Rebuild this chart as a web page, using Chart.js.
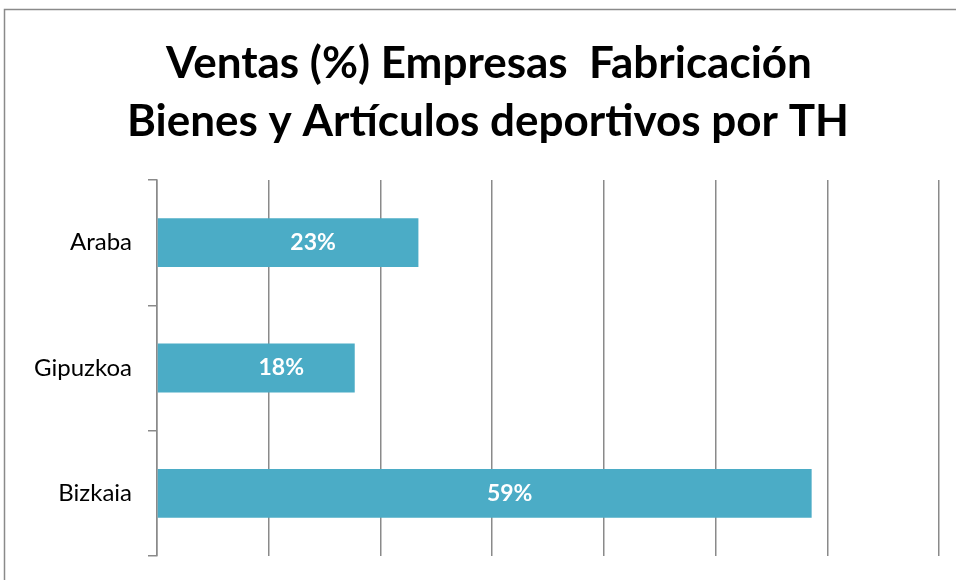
<!DOCTYPE html>
<html>
<head>
<meta charset="utf-8">
<script src="https://cdn.jsdelivr.net/npm/chart.js@4.4.0/dist/chart.umd.min.js"></script>
<style>
  html, body { margin: 0; padding: 0; background: #fff; }
  #wrap { width: 956px; height: 580px; position: relative; }
</style>
</head>
<body>
<div id="wrap"><canvas id="grafico" width="956" height="580"></canvas></div>
<script>
// datos
var territorios = ["Araba", "Gipuzkoa", "Bizkaia"];
var ventas = [23.4, 17.7, 58.6];
var titulo = ["Ventas (%) Empresas  Fabricación", "Bienes y Artículos deportivos por TH"];

var fuente = "Lato, 'Open Sans', sans-serif";

// marco gris del grafico (solo se ven los bordes izquierdo y superior)
var marco = {
    id: "marco",
    beforeDraw: function(c) {
        var ctx = c.ctx;
        ctx.save();
        ctx.strokeStyle = "#8a8a8a";
        ctx.lineWidth = 1.5;
        ctx.beginPath();
        ctx.moveTo(4.5, 600);
        ctx.lineTo(4.5, 9.5);
        ctx.lineTo(990, 9.5);
        ctx.stroke();
        ctx.restore();
    }
};

// titulo en dos lineas, algo desplazado a la derecha como en el original
var cabecera = {
    id: "cabecera",
    afterDraw: function(c) {
        var ctx = c.ctx;
        ctx.save();
        ctx.fillStyle = "#000";
        ctx.font = "bold 44px " + fuente;
        ctx.textAlign = "center";
        ctx.textBaseline = "alphabetic";
        ctx.fillText(titulo[0], 489, 78);
        ctx.fillText(titulo[1], 488, 136);
        ctx.restore();
    }
};

// etiquetas de porcentaje dentro de las barras
var etiquetas = {
    id: "etiquetas",
    afterDatasetsDraw: function(c) {
        var ctx = c.ctx;
        var meta = c.getDatasetMeta(0);
        ctx.save();
        ctx.fillStyle = "#ffffff";
        ctx.font = "bold 23px " + fuente;
        ctx.textAlign = "center";
        ctx.textBaseline = "middle";
        meta.data.forEach(function(b, i) {
            var x = (b.x + b.base) / 2 + 25;
            ctx.fillText(Math.round(ventas[i]) + "%", x, b.y);
        });
        ctx.restore();
    }
};

new Chart(document.getElementById("grafico").getContext("2d"), {
    type: "bar",
    data: {
        labels: territorios,
        datasets: [{
            data: ventas,
            backgroundColor: "#4bacc6",
            borderWidth: 0,
            barPercentage: 0.39,
            categoryPercentage: 1
        }]
    },
    options: {
        indexAxis: "y",
        responsive: false,
        animation: false,
        layout: { padding: { left: 0, right: 17, top: 180, bottom: 24 } },
        plugins: {
            legend: { display: false },
            tooltip: { enabled: false },
            title: { display: false }
        },
        scales: {
            x: {
                min: 0,
                max: 70,
                afterFit: function(s) { s.height = 0; },
                ticks: { display: false, stepSize: 10 },
                grid: { color: "#8a8a8a", lineWidth: 1.5, drawTicks: false },
                border: { display: false }
            },
            y: {
                afterFit: function(s) {
                    s.width = 157;
                    s.paddingTop = 0;
                    s.paddingBottom = 0;
                },
                ticks: { color: "#000", font: { family: fuente, size: 24 }, padding: 16 },
                grid: { drawOnChartArea: false, drawTicks: true, tickLength: 9, color: "#8a8a8a", lineWidth: 1.5 },
                border: { display: true, color: "#8a8a8a", width: 1.5 }
            }
        }
    },
    plugins: [marco, cabecera, etiquetas]
});
</script>
</body>
</html>
